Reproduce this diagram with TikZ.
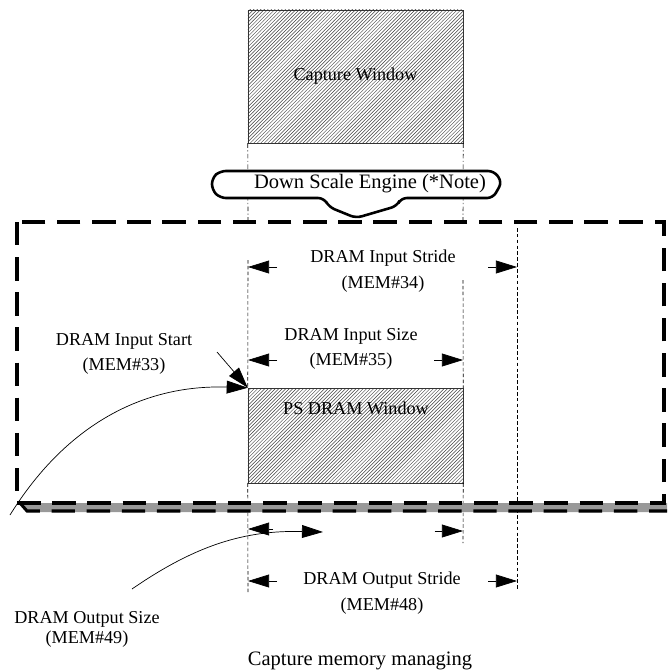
\documentclass[tikz,border=0pt]{standalone}
\usepackage{fontspec}
\setmainfont{Liberation Serif}
\usetikzlibrary{arrows.meta,patterns,positioning}

\begin{document}
\begin{tikzpicture}[x=0.03cm, y=-0.03cm, font=\fontsize{15.5}{22}\selectfont]
% Define styles
\tikzstyle{window} = [rectangle, draw=black!80, pattern=north east lines, pattern color=black!75, minimum width=6.45cm, inner sep=0pt]
\tikzstyle{guide} = [densely dashed, line width=0.5pt]
\tikzstyle{dashdot} = [dash pattern=on 4pt off 2pt on 1pt off 2pt, line width=0.5pt]
\tikzstyle{bigdash} = [line width=2.6pt, dash pattern=on 20pt off 10pt]
\tikzstyle{dimarrow} = [-{Triangle[length=18pt,width=11pt]}, line width=0.6pt]
\tikzstyle{lbl} = [align=center, inner sep=1pt]

\useasboundingbox (0,0) rectangle (667,671);

% Windows
\node (capwin) [window, minimum height=3.99cm] at (355.5,76.5) {Capture Window};
\node (psdram) [window, minimum height=2.85cm] at (355.5,435.5) {};

% Guide lines
\coordinate (instrL) at (248,267);
\coordinate (instrR) at (517,267);
\coordinate (insizeL) at (248,360);
\coordinate (insizeR) at (463,360);
\coordinate (outsizeL) at (248,529);
\coordinate (outsizeR) at (463,531);
\coordinate (outstrL) at (248,581);
\coordinate (outstrR) at (517,581);

\draw [dashdot] (capwin.south west) -- (248,221);
\draw [dashdot] (capwin.south east) -- (463,221);
\draw [guide] (248,260) -- (psdram.north west);
\draw [guide] (psdram.south west) -- (248,592);
\draw [guide] (463,280) -- (psdram.north east);
\draw [guide] (psdram.south east) -- (463,543);
\draw [guide] (517,228) -- (517,591);

% Dashed memory frame with shadow
\fill [black!40] (20,503) -- (667,503) -- (667,512) -- (27,512) -- cycle;
\draw [bigdash] (17,222) rectangle (664,503);
\draw [bigdash] (20,503) -- (27,511) -- (667,511);

% Down scale engine callout
\draw [line width=2.2pt, rounded corners=5pt, fill=white] (220,171) -- (494,171) -- (502,182) -- (493,198) -- (401,198) -- (397,206) -- (356,218) -- (329,207) -- (324,198) -- (220,198) -- (212,190) -- (212,178) -- cycle;
\node (dse) [font=\fontsize{17.5}{20}\selectfont] at (370,184) {Down Scale Engine (*Note)};

% Labels
\node (pstext) at (356,408) {PS DRAM Window};
\node (instrlbl) [lbl] at (383,271) {DRAM Input Stride\\(MEM\#34)};
\node (insizelbl) [lbl] at (351,349) {DRAM Input Size\\(MEM\#35)};
\node (startlbl) [lbl] at (124,354) {DRAM Input Start\\(MEM\#33)};
\node (outstrlbl) [lbl] at (382,593) {DRAM Output Stride\\(MEM\#48)};
\node (outsizelbl) [lbl, font=\fontsize{15.5}{17}\selectfont] at (87,629) {DRAM Output Size\\(MEM\#49)};
\node (caption) [font=\fontsize{17.5}{20}\selectfont] at (360,661) {Capture memory managing};

% Dimension arrows
\draw [dimarrow] ([xshift=0.87cm]instrL) -- (instrL);
\draw [dimarrow] ([xshift=-0.87cm]instrR) -- (instrR);
\draw [dimarrow] ([xshift=0.87cm]insizeL) -- (insizeL);
\draw [dimarrow] ([xshift=-0.87cm]insizeR) -- (insizeR);
\draw [dimarrow] ([xshift=0.75cm]outsizeL) -- (outsizeL);
\draw [dimarrow] ([xshift=-0.85cm]outsizeR) -- (outsizeR);
\draw [dimarrow] ([xshift=0.87cm]outstrL) -- (outstrL);
\draw [dimarrow] ([xshift=-0.87cm]outstrR) -- (outstrR);

% Pointers
\coordinate (starttail) at (217,352);
\coordinate (intail) at (10,515);
\coordinate (outtail) at (132,589);
\coordinate (outtip) at (323,532);
\draw [dimarrow] (starttail) -- (psdram.north west);
\draw [dimarrow] (intail) to[bend left=30] (psdram.north west);
\draw [dimarrow] (outtail) to[bend left=18] (outtip);
\end{tikzpicture}
\end{document}
